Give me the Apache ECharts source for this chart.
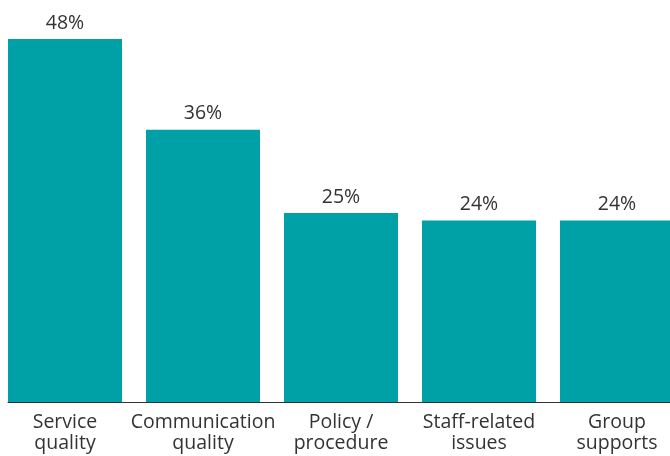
<!DOCTYPE html>
<html>
<head>
<meta charset="utf-8">
<style>
  html, body { margin: 0; padding: 0; background: #fff; overflow: hidden; }
  body { width: 670px; height: 456px; position: relative; }
  #chart { position: absolute; left: -4px; top: 0; width: 690px; height: 456px; }
</style>
<script src="https://cdn.jsdelivr.net/npm/echarts@6/dist/echarts.min.js"></script>
</head>
<body>
<div id="chart"></div>
<script>
// Share of responses by complaint theme (%)
const categories = ['Service\nquality', 'Communication\nquality', 'Policy /\nprocedure', 'Staff-related\nissues', 'Group\nsupports'];
const values = [48, 36, 25, 24, 24];

const BAR_COLOR = '#00A1A6';
const TEXT_COLOR = '#333333';
const FONT = '"Open Sans", "Noto Sans", sans-serif';

const chart = echarts.init(document.getElementById('chart'), null, { renderer: 'canvas' });

chart.setOption({
  animation: false,
  grid: [
    { left: 0, right: 0, top: 39, bottom: 54, containLabel: false },
    { left: 12, right: 16, top: 39, bottom: 54, containLabel: false }
  ],
  xAxis: [
    {
      type: 'category',
      gridIndex: 0,
      data: categories,
      axisLine: { show: false },
      axisTick: { show: false },
      axisLabel: {
        color: TEXT_COLOR,
        fontFamily: FONT,
        fontSize: 19.5,
        lineHeight: 21,
        margin: 10,
        interval: 0
      }
    },
    {
      // baseline rule under the bars
      type: 'category',
      gridIndex: 1,
      data: [''],
      axisLine: { show: true, lineStyle: { color: '#333333', width: 1 } },
      axisTick: { show: false },
      axisLabel: { show: false }
    }
  ],
  yAxis: [
    { type: 'value', gridIndex: 0, min: 0, max: 48, show: false },
    { type: 'value', gridIndex: 1, min: 0, max: 48, show: false }
  ],
  series: [{
    type: 'bar',
    xAxisIndex: 0,
    yAxisIndex: 0,
    data: values,
    barWidth: 114,
    itemStyle: { color: BAR_COLOR },
    label: {
      show: true,
      position: 'top',
      distance: 6,
      formatter: '{c}%',
      color: TEXT_COLOR,
      fontFamily: FONT,
      fontSize: 19.5
    }
  }]
});
</script>
</body>
</html>
